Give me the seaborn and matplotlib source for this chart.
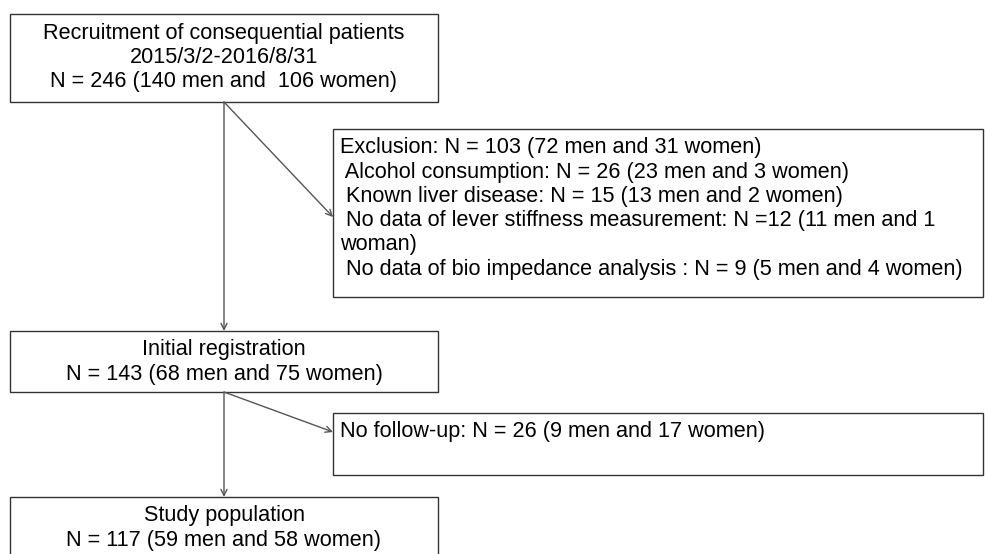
"""
Flowchart of patient recruitment (recreated with seaborn/matplotlib)
"""
import matplotlib
matplotlib.use("Agg")
import matplotlib.pyplot as plt
import seaborn as sns
from matplotlib.patches import Rectangle

sns.set_theme(style="white")
plt.rcParams['font.family'] = ['Liberation Sans', 'DejaVu Sans']

# box texts
main_titles = ["Recruitment of consequential patients", "Initial registration", "Study population"]
main_subtitles = [["2015/3/2-2016/8/31", "N = 246 (140 men and  106 women)"],
                  ["N = 143 (68 men and 75 women)"],
                  ["N = 117 (59 men and 58 women)"]]
exclusion_lines = ["Exclusion: N = 103 (72 men and 31 women)",
                   " Alcohol consumption: N = 26 (23 men and 3 women)",
                   " Known liver disease: N = 15 (13 men and 2 women)",
                   " No data of lever stiffness measurement: N =12 (11 men and 1",
                   "woman)",
                   " No data of bio impedance analysis : N = 9 (5 men and 4 women)"]
followup_lines = ["No follow-up: N = 26 (9 men and 17 women)"]

# layout (pixels)
main_x0, main_x1 = 10, 438
main_tops = [14, 331, 497]
main_bottoms = [102, 392, 560]
side_x0, side_x1 = 333, 983
side_tops = [129, 413]
side_bottoms = [297, 475]
arrow_targets = [217, 432]
line_h = 24.2

fig = plt.figure(figsize=(9.85, 5.54), dpi=100)
ax = fig.add_axes([0, 0, 1, 1])
ax.set_xlim(0, 985)
ax.set_ylim(554, 0)
ax.axis('off')

box_kw = dict(fill=False, edgecolor='#333333', lw=1.0)
conn_kw = dict(arrowstyle='->', color='#555555', lw=1.0, mutation_scale=11,
               shrinkA=0, shrinkB=0)
cx = (main_x0 + main_x1) / 2

for i, title in enumerate(main_titles):
    top, bot = main_tops[i], main_bottoms[i]
    ax.add_patch(Rectangle((main_x0, top), main_x1 - main_x0, bot - top, **box_kw))
    lines = [title] + main_subtitles[i]
    for j, ln in enumerate(lines):
        ax.text(cx, top + 19 + j * line_h, ln, ha='center', va='center',
                fontsize=15.6, color='black')

side_texts = [exclusion_lines, followup_lines]
for i, lines in enumerate(side_texts):
    top, bot = side_tops[i], side_bottoms[i]
    ax.add_patch(Rectangle((side_x0, top), side_x1 - side_x0, bot - top, **box_kw))
    for j, ln in enumerate(lines):
        ax.text(side_x0 + 7, top + 19 + j * line_h, ln, ha='left', va='center',
                fontsize=15.6, color='black')

# arrows: straight down and diagonal to the side boxes
for i in range(2):
    ax.annotate('', xy=(cx, main_tops[i + 1]), xytext=(cx, main_bottoms[i]),
                arrowprops=conn_kw)
    ax.annotate('', xy=(side_x0, arrow_targets[i]), xytext=(cx, main_bottoms[i]),
                arrowprops=conn_kw)

plt.savefig('out.png', dpi=100)
